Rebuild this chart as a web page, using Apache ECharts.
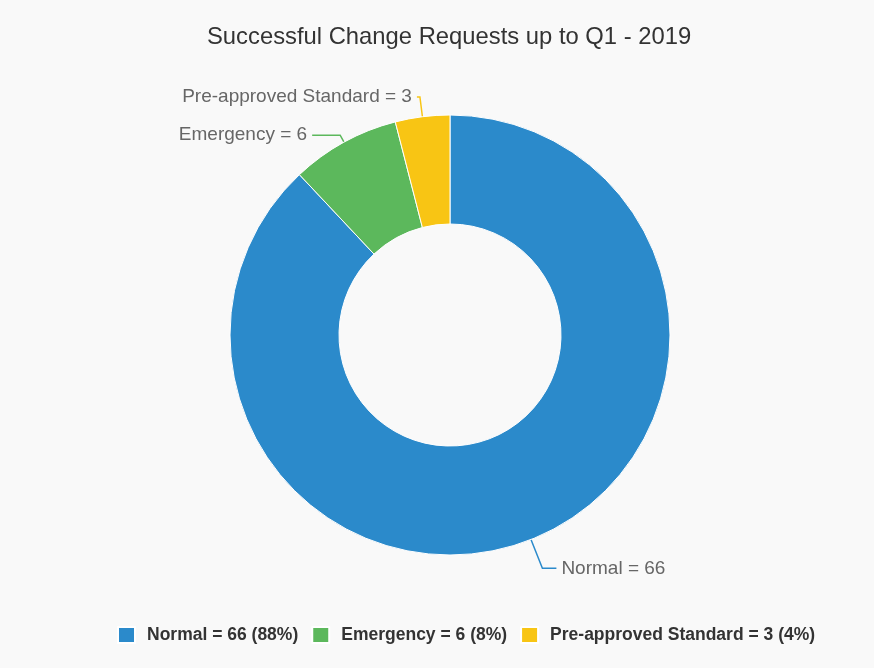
<!DOCTYPE html>
<html><head><meta charset="utf-8">
<script src="https://cdn.jsdelivr.net/npm/echarts@6/dist/echarts.min.js"></script>
<style>html,body{margin:0;padding:0;background:#f9f9f9}#c{width:874px;height:668px}</style>
</head><body><div id="c"></div>
<script>
const categories = ['Normal', 'Emergency', 'Pre-approved Standard'];
const values = [66, 6, 3];
const colors = ['#2b8acb', '#5cb85c', '#f8c514'];
const title = 'Successful Change Requests up to Q1 - 2019';

// label-line styling per slice (visual only)
const lineLengths = [[31, 14], [8, 28], [20, 3]];

const total = values.reduce((a, b) => a + b, 0);
const chart = echarts.init(document.getElementById('c'));
chart.setOption({
  backgroundColor: '#f9f9f9',
  color: colors,
  title: {
    text: title, left: 202, top: 20,
    textStyle: { fontFamily: 'Liberation Sans, Arial', fontSize: 23.8, fontWeight: 'normal', color: '#333' }
  },
  legend: {
    top: 621, left: 112, itemWidth: 17, itemHeight: 16, itemGap: 13, icon: 'rect',
    textStyle: { fontFamily: 'Liberation Sans, Arial', fontSize: 17.5, fontWeight: 'bold', color: '#333', padding: [0, 0, 0, 7] },
    formatter: function (name) {
      const i = categories.indexOf(name);
      return name + ' = ' + values[i] + ' (' + Math.round(values[i] / total * 100) + '%)';
    }
  },
  series: [{
    type: 'pie',
    center: [450, 335],
    radius: [111, 220],
    startAngle: 90,
    clockwise: true,
    avoidLabelOverlap: false,
    itemStyle: { borderColor: '#ffffff', borderWidth: 1 },
    label: {
      formatter: '{b} = {c}',
      color: '#666',
      fontFamily: 'Liberation Sans, Arial',
      fontSize: 19
    },
    labelLine: { lineStyle: { width: 1.5 } },
    data: categories.map((c, i) => ({
      name: c, value: values[i],
      labelLine: { length: lineLengths[i][0], length2: lineLengths[i][1] }
    }))
  }]
});
</script></body></html>
